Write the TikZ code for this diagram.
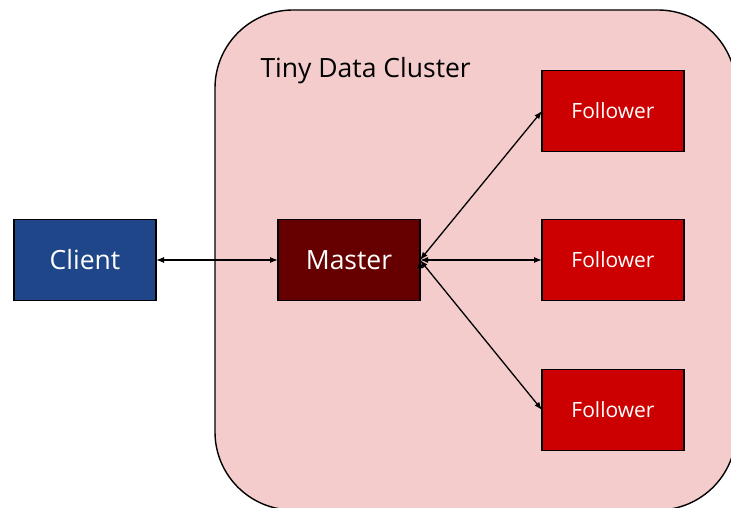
\documentclass[tikz,border=0pt]{standalone}
\usepackage{fontspec}
\setmainfont{Open Sans}
\usepackage{xcolor}
\usetikzlibrary{positioning,arrows.meta}
\definecolor{clientblue}{HTML}{1E4688}
\definecolor{masterred}{HTML}{660000}
\definecolor{followerred}{HTML}{CC0000}
\definecolor{clusterpink}{HTML}{F4CCCC}
\tikzset{box node/.style={rectangle,draw=black,line width=1.2pt,minimum width=142pt,minimum height=81pt,inner sep=0pt,outer sep=0pt,text=white},
client node/.style={box node,fill=clientblue,font=\fontsize{26.5}{26.5}\selectfont},
master node/.style={box node,fill=masterred,font=\fontsize{26.5}{26.5}\selectfont},
follower node/.style={box node,fill=followerred,font=\fontsize{21}{21}\selectfont},}

\begin{document}
\begin{tikzpicture}[x=1pt,y=1pt]
    \useasboundingbox (0,0) rectangle (731,-508);
    \clip (0,0) rectangle (731,-508);
    \draw[fill=clusterpink,line width=1.4pt,rounded corners=78pt] (215,-10) rectangle (736,-510);
    \node[anchor=base west,font=\fontsize{26.5}{26.5}\selectfont] (title) at (257,-78) {Tiny Data Cluster};

    \node[client node] (client) at (85,-260) {Client};
    \node[master node] (master) [right = 122pt of client] {Master};
    \node[follower node] (f2) [right = 122pt of master] {Follower};
    \node[follower node] (f1) [above = 68pt of f2] {Follower};
    \node[follower node] (f3) [below = 69pt of f2] {Follower};

    \path[draw,{Latex[length=8pt,width=6pt]}-{Latex[length=8pt,width=6pt]},line width=1.3pt]
    (client) edge node {} (master)
    (master.east) edge node {} (f1.west)
    (master.east) edge node {} (f2.west)
    (master.east) edge node {} (f3.west)
    ;
\end{tikzpicture}
\end{document}
